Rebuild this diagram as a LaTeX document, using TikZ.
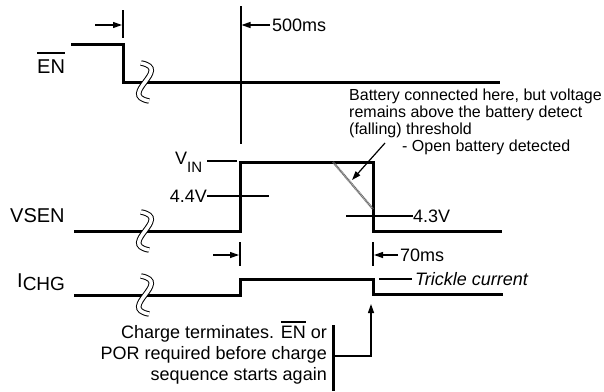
\documentclass[tikz,border=0pt]{standalone}
\usepackage{fontspec}
\setmainfont{Liberation Sans}
\usetikzlibrary{arrows.meta}
\newcommand\ovtxt[3]{\setbox0\hbox{#3}\rlap{\raisebox{\dimexpr\ht0+#1\relax}{\rule{\wd0}{#2}}}\box0\relax}
\begin{document}
\begin{tikzpicture}[x=1pt,y=-1pt,
  sig/.style={line width=3pt, line cap=butt, line join=miter},
  tick/.style={line width=2pt},
  thin/.style={line width=1.2pt},
  tip/.style={-{Triangle[length=9pt,width=6pt]}},
  dim/.style={thin, tip},
  lbl/.style={inner sep=0pt, font=\fontsize{18}{18}\selectfont},
  big/.style={inner sep=0pt, font=\fontsize{20}{20}\selectfont},
  note/.style={inner sep=0pt, font=\fontsize{16}{16}\selectfont},
  brk/.style={line width=1pt, double=white, double distance=3.5pt},
  brkpic/.pic={\draw[brk] (-4,-19) .. controls (28,-13) and (-28,13) .. (4,19);}
]
\useasboundingbox (0,0) rectangle (604,391);
% signals
\draw[sig] (71,44) -- (123,44) -- (123,82) -- (500,82);
\draw[sig] (74,231) -- (240,231) -- (240,162) -- (373,162) -- (373,231) -- (502,231);
\draw[sig] (74,295) -- (240,295) -- (240,279) -- (373,279) -- (373,294) -- (503,294);
% breaks
\pic at (145,82) {brkpic};
\pic at (145,231) {brkpic};
\pic at (145,295) {brkpic};
% ticks
\draw[tick] (123,10) -- (123,38);
\draw[tick] (240.5,6) -- (240.5,144);
\draw[tick] (240,242) -- (240,266);
\draw[tick] (373,242) -- (373,266);
% dimension arrows
\draw[dim] (95,25) -- (122,25);
\draw[dim] (270,25) -- (241.5,25);
\draw[dim] (213,255) -- (239,255);
\draw[dim] (398,255) -- (374,255);
% level lines
\draw[thin] (207,161) -- (237,161);
\draw[thin] (207,196) -- (269,196);
\draw[thin] (346,216) -- (413,216);
\draw[thin] (379,279) -- (412,279);
% hatched falling edge
\draw[line width=2.2pt, black!65, dash pattern=on 0.6pt off 0.6pt] (333,162) -- (373,209);
\draw[thin, tip] (385,143) -- (352,180);
% bottom callout
\draw[thin, tip] (333,356) -- (371,356) -- (371,304);
\draw[sig] (333,325) -- (333,391);
% labels
\node[big, anchor=base west] (en) at (37,73) {\ovtxt{5pt}{2pt}{EN}};
\node[big, anchor=base west] (vsen) at (10,222) {VSEN};
\node[big, anchor=base west] (ichg) at (17,287) {I\raisebox{-3pt}{\fontsize{19}{19}\selectfont CHG}};
\node[lbl, anchor=base west] (t500) at (272,31) {500ms};
\node[lbl, anchor=base west] (vin) at (175,164) {V\raisebox{-8pt}{\fontsize{15}{15}\selectfont IN}};
\node[lbl, anchor=base east] (v44) at (207,202) {4.4V};
\node[lbl, anchor=base west] (v43) at (413,222) {4.3V};
\node[lbl, anchor=base west] (t70) at (400,261) {70ms};
\node[lbl, anchor=base west, font=\fontsize{18}{18}\selectfont\itshape] (trk) at (415,285) {Trickle current};
% annotation
\node[note, anchor=base west] (a1) at (349,100) {Battery connected here, but voltage};
\node[note, anchor=base west] (a2) at (349,117) {remains above the battery detect};
\node[note, anchor=base west] (a3) at (349,134) {(falling) threshold};
\node[note, anchor=base west] (a4) at (402,151) {- Open battery detected};
\node[lbl, anchor=base east] (b1) at (327,338) {Charge terminates. \ovtxt{3pt}{1.5pt}{EN} or};
\node[lbl, anchor=base east] (b2) at (327,359) {POR required before charge};
\node[lbl, anchor=base east] (b3) at (327,380) {sequence starts again};
\end{tikzpicture}
\end{document}
